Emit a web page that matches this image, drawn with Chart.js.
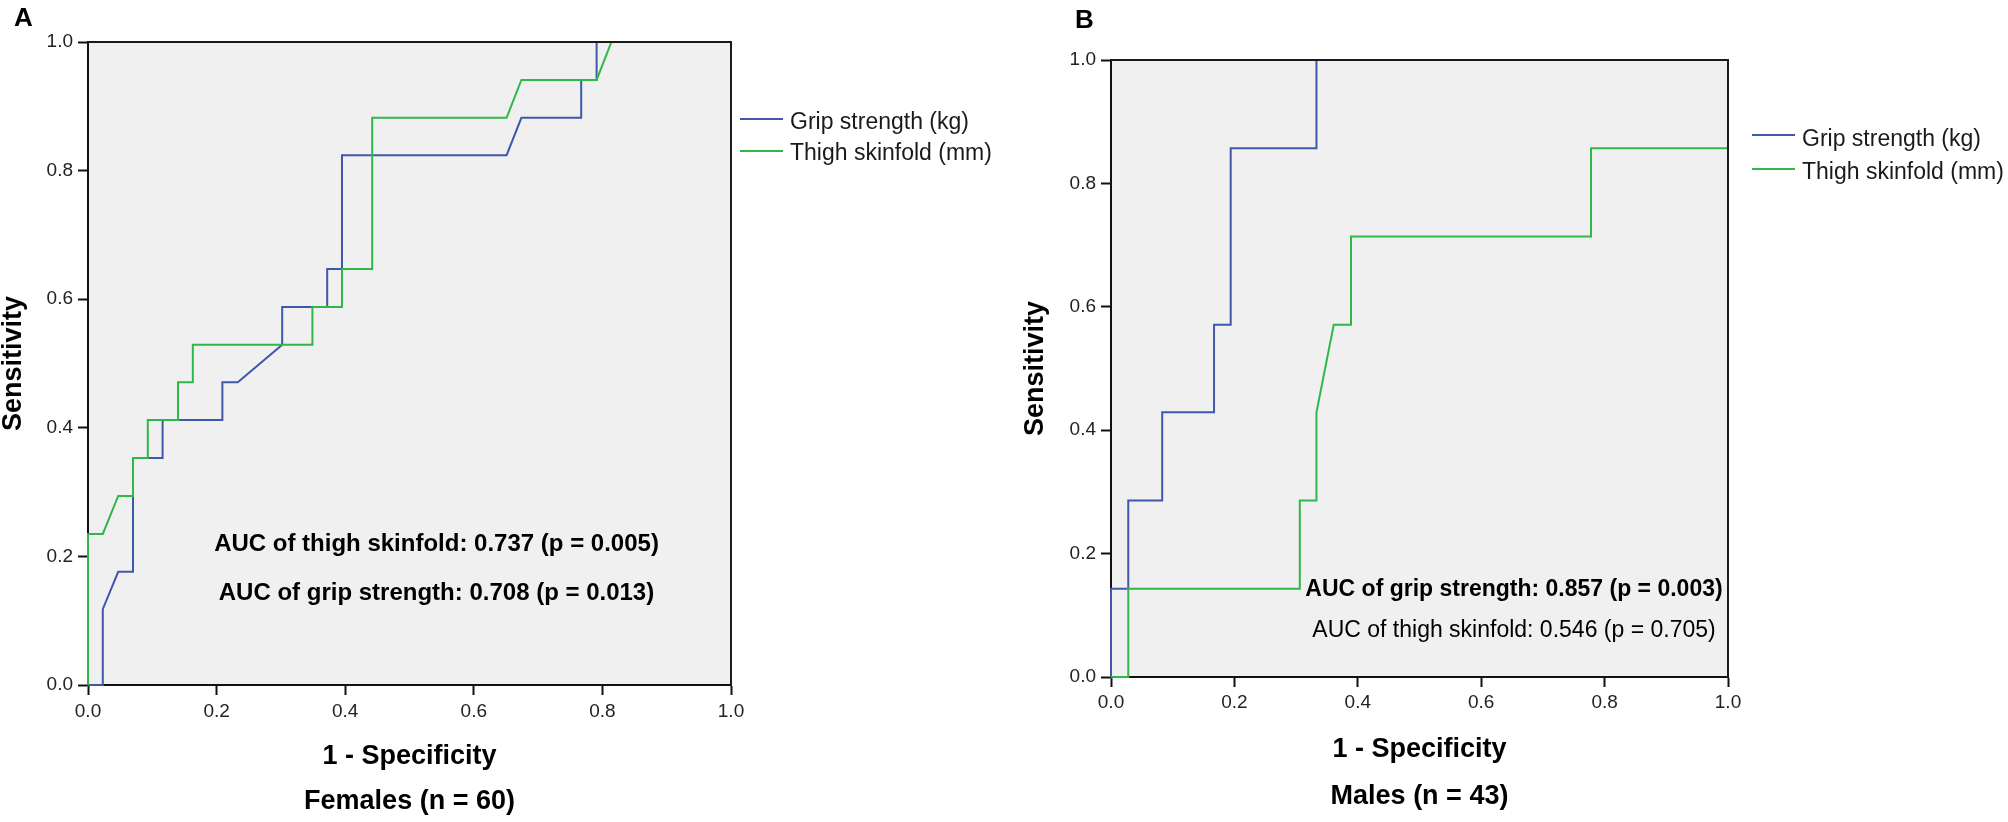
<!DOCTYPE html>
<html><head><meta charset="utf-8">
<script src="https://cdn.jsdelivr.net/npm/chart.js@4.4.1/dist/chart.umd.min.js"></script>
<style>
html,body{margin:0;padding:0;background:#fff;}
#wrap{position:relative;width:2008px;height:822px;overflow:hidden;background:#fff;}
canvas{position:absolute;top:0;}
#cA{left:0;} #cB{left:1004px;}
</style></head><body>
<div id="wrap"><canvas id="cA" width="1004" height="822"></canvas><canvas id="cB" width="1004" height="822"></canvas></div>
<script>
// ---------- data ----------
const seriesLabels = ['Grip strength (kg)', 'Thigh skinfold (mm)'];
const seriesColors = ['#3E58AC', '#2EB848'];
const tickValues = [0, 0.2, 0.4, 0.6, 0.8, 1.0];

// Females (n = 60)
const femaleGripX  = [0,0.023,0.023,0.047,0.070,0.070,0.116,0.116,0.209,0.209,0.233,0.302,0.302,0.372,0.372,0.395,0.395,0.651,0.674,0.767,0.767,0.791,0.791,1];
const femaleGripY  = [0,0,0.118,0.176,0.176,0.353,0.353,0.412,0.412,0.471,0.471,0.529,0.588,0.588,0.647,0.647,0.824,0.824,0.882,0.882,0.941,0.941,1,1];
const femaleThighX = [0,0,0.023,0.047,0.070,0.070,0.093,0.093,0.140,0.140,0.163,0.163,0.349,0.349,0.395,0.395,0.442,0.442,0.651,0.674,0.791,0.814,1];
const femaleThighY = [0,0.235,0.235,0.294,0.294,0.353,0.353,0.412,0.412,0.471,0.471,0.529,0.529,0.588,0.588,0.647,0.647,0.882,0.882,0.941,0.941,1,1];

// Males (n = 43)
const maleGripX  = [0,0,0.028,0.028,0.083,0.083,0.167,0.167,0.194,0.194,0.333,0.333,1];
const maleGripY  = [0,0.143,0.143,0.286,0.286,0.429,0.429,0.571,0.571,0.857,0.857,1,1];
const maleThighX = [0,0.028,0.028,0.306,0.306,0.333,0.333,0.361,0.389,0.389,0.778,0.778,1];
const maleThighY = [0,0,0.143,0.143,0.286,0.286,0.429,0.571,0.571,0.714,0.714,0.857,0.857];

const panelLetters = ['A', 'B'];
const xTitle = '1 - Specificity';
const yTitle = 'Sensitivity';
const groupLabels = ['Females (n = 60)', 'Males (n = 43)'];
const aucTextsFemale = ['AUC of thigh skinfold: 0.737 (p = 0.005)', 'AUC of grip strength: 0.708 (p = 0.013)'];
const aucTextsMale   = ['AUC of grip strength: 0.857 (p = 0.003)', 'AUC of thigh skinfold: 0.546 (p = 0.705)'];

// ---------- helpers ----------
const FONT = '"Liberation Sans", Arial, Helvetica, sans-serif';
const toPts = (xs, ys) => xs.map((x, i) => ({x: x, y: ys[i]}));

const panelPlugin = {
  id: 'panel',
  beforeDraw(chart) {
    const {ctx, chartArea: a} = chart;
    ctx.save();
    ctx.fillStyle = '#f0f0f0';
    ctx.fillRect(a.left, a.top, a.right - a.left, a.bottom - a.top);
    ctx.restore();
  },
  afterDatasetsDraw(chart, args, o) {
    const {ctx, chartArea: a} = chart;
    ctx.save();
    // frame top / right
    ctx.strokeStyle = '#1a1a1a'; ctx.lineWidth = 2;
    ctx.beginPath(); ctx.moveTo(a.left, a.top); ctx.lineTo(a.right, a.top); ctx.lineTo(a.right, a.bottom + 1); ctx.stroke();
    // panel letter
    ctx.fillStyle = '#000';
    ctx.font = 'bold 26px ' + FONT;
    ctx.textAlign = 'left'; ctx.textBaseline = 'alphabetic';
    ctx.fillText(o.letter, o.letterX, o.letterY);
    // legend
    ctx.font = '23px ' + FONT;
    chart.data.datasets.forEach((ds, i) => {
      const ly = o.legendLineY[i];
      ctx.strokeStyle = ds.borderColor; ctx.lineWidth = 2;
      ctx.beginPath(); ctx.moveTo(o.legendX, ly); ctx.lineTo(o.legendX + 43, ly); ctx.stroke();
      ctx.fillStyle = '#1a1a1a';
      ctx.fillText(ds.label, o.legendX + 50, o.legendTextY[i]);
    });
    // AUC annotations
    ctx.textAlign = 'center';
    o.auc.forEach((t, i) => {
      ctx.font = (o.aucBold[i] ? 'bold ' : '') + o.aucSize + 'px ' + FONT;
      ctx.fillStyle = '#000';
      ctx.fillText(t, o.aucX, o.aucY[i]);
    });
    ctx.restore();
  }
};

function makeChart(canvasId, gripX, gripY, thighX, thighY, geo, group, panel) {
  const axisCommon = {
    type: 'linear', min: 0, max: 1,
    afterBuildTicks: s => { s.ticks = tickValues.map(v => ({value: v})); },
    ticks: {callback: v => Number(v).toFixed(1), font: {size: 19, family: FONT}, color: '#222', maxRotation: 0, autoSkip: false},
    grid: {drawOnChartArea: false, drawTicks: true, tickLength: 10, tickWidth: 2, tickColor: '#111'},
    border: {display: true, color: '#111', width: 2}
  };
  return new Chart(document.getElementById(canvasId), {
    type: 'scatter',
    data: {
      datasets: [
        {label: seriesLabels[0], data: toPts(gripX, gripY), borderColor: seriesColors[0], backgroundColor: seriesColors[0], order: 2},
        {label: seriesLabels[1], data: toPts(thighX, thighY), borderColor: seriesColors[1], backgroundColor: seriesColors[1], order: 1}
      ]
    },
    options: {
      responsive: false, animation: false, events: [],
      elements: {line: {borderWidth: 2, tension: 0}, point: {radius: 0}},
      datasets: {scatter: {showLine: true, clip: 6}},
      layout: {padding: {left: 0, top: geo.top, right: 1004 - geo.right, bottom: 0}},
      scales: {
        x: Object.assign({}, axisCommon, {
          position: 'bottom',
          ticks: Object.assign({}, axisCommon.ticks, {padding: geo.xTickPad}),
          afterFit: s => { s.height = 822 - geo.bottom; },
          title: {display: true, text: [xTitle, group], color: '#000',
                  font: {size: 27, weight: 'bold', family: FONT, lineHeight: geo.xTitleLH + 'px'},
                  padding: {top: 0, bottom: geo.xTitlePadB}}
        }),
        y: Object.assign({}, axisCommon, {
          position: 'left',
          ticks: Object.assign({}, axisCommon.ticks, {padding: 5}),
          afterFit: s => { s.width = geo.left; },
          title: {display: true, text: yTitle, color: '#000',
                  font: {size: 27, weight: 'bold', family: FONT, lineHeight: 1.2},
                  padding: {top: geo.yTitlePadT, bottom: 0}}
        })
      },
      plugins: {
        legend: {display: false}, tooltip: {enabled: false},
        panel: panel
      }
    },
    plugins: [panelPlugin]
  });
}

makeChart('cA', femaleGripX, femaleGripY, femaleThighX, femaleThighY,
  {left: 88, top: 42, right: 731, bottom: 685, xTickPad: 5, xTitleLH: 45, xTitlePadB: -2, yTitlePadT: -2.5},
  groupLabels[0],
  {letter: panelLetters[0], letterX: 14, letterY: 26,
   legendX: 740, legendLineY: [119, 151], legendTextY: [129, 160],
   auc: aucTextsFemale, aucBold: [true, true], aucSize: 24, aucX: 436.5, aucY: [551, 600]});

makeChart('cB', maleGripX, maleGripY, maleThighX, maleThighY,
  {left: 107, top: 60, right: 724, bottom: 677, xTickPad: 4, xTitleLH: 47, xTitlePadB: 1.5, yTitlePadT: 15},
  groupLabels[1],
  {letter: panelLetters[1], letterX: 71, letterY: 28,
   legendX: 748, legendLineY: [135, 169], legendTextY: [146, 179],
   auc: aucTextsMale, aucBold: [true, false], aucSize: 23, aucX: 510, aucY: [596, 637]});
</script>
</body></html>
